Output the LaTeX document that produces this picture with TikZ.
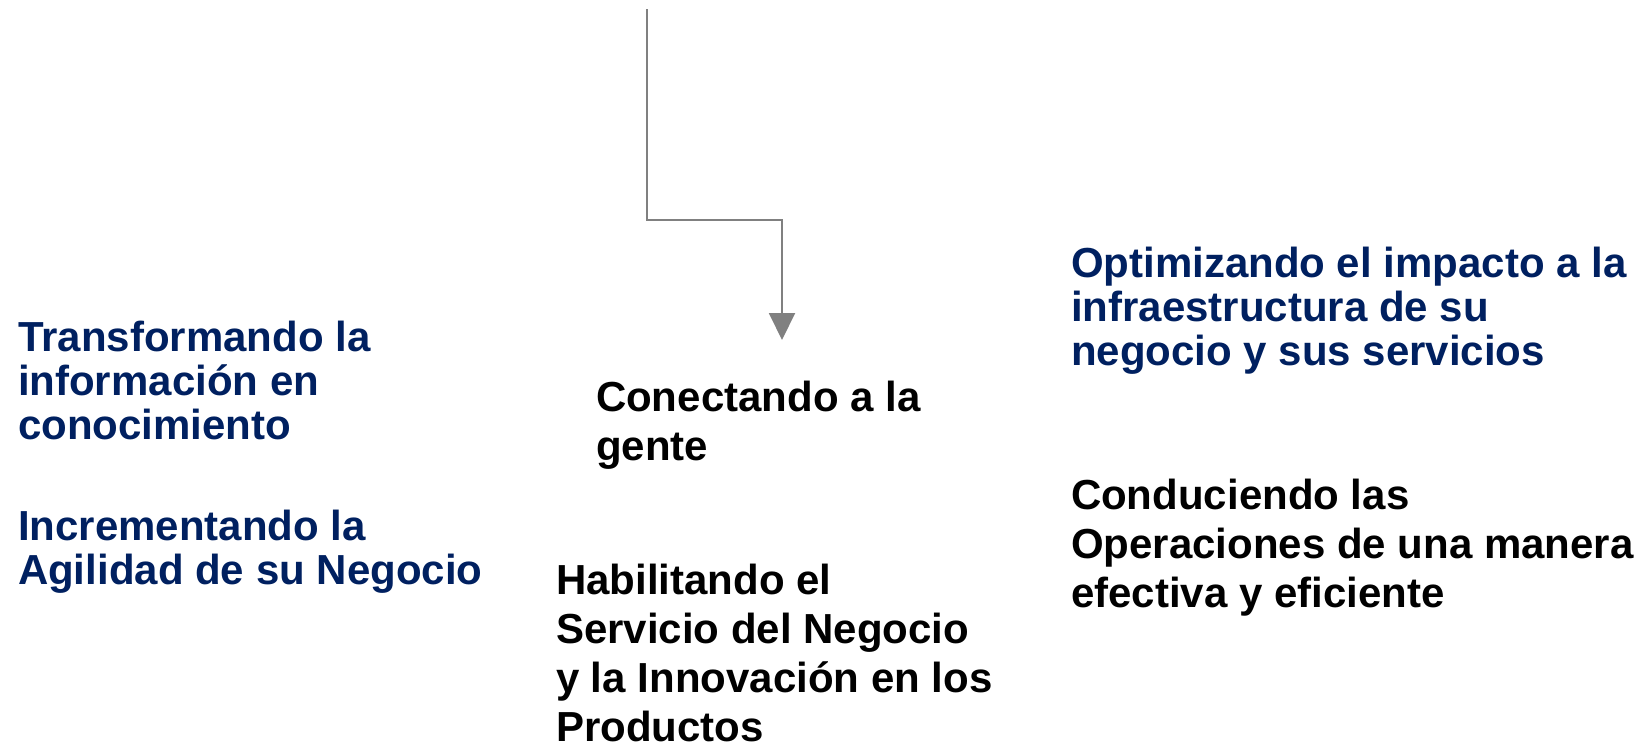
\documentclass[tikz,border=0pt]{standalone}
\usepackage{fontspec}
\setmainfont{Liberation Sans}
\usepackage{tikz}
\usetikzlibrary{arrows.meta,positioning}
\definecolor{navy}{RGB}{0,32,96}
\definecolor{linegray}{RGB}{128,128,128}

\begin{document}
\begin{tikzpicture}[x=1pt,y=-1pt,
    >={Triangle[width=26pt,length=27pt]},
    line width=2pt]
\tikzstyle{every node}=[inner sep=0pt, anchor=base west, align=left, font=\bfseries]
\tikzstyle{bluetxt}=[text=navy, font=\bfseries\fontsize{42}{44}\selectfont]
\tikzstyle{blacktxt}=[text=black, font=\bfseries\fontsize{42}{49}\selectfont]

\useasboundingbox (0,0) rectangle (1652,742);

% nodes are placed by the baseline of their last line
\node[bluetxt]  (trans) at (17,439)   {Transformando la\\información en\\conocimiento};
\node[bluetxt]  (incr)  at (17,584)   {Incrementando la\\Agilidad de su Negocio};

\node[blacktxt] (conec) at (595,460)  {Conectando a la\\gente};
\node[blacktxt] (habil) at (555,741)  {Habilitando el\\Servicio del Negocio\\y la Innovación en los\\Productos};

\node[bluetxt]  (optim) at (1070,365) {Optimizando el impacto a la\\infraestructura de su\\negocio y sus servicios};
\node[blacktxt] (condu) at (1070,607) {Conduciendo las\\Operaciones de una manera\\efectiva y eficiente};

\coordinate (top)  at (647,9);
\coordinate (tip)  at (782,340);

\draw[->, linegray] (top) |- (782,220) -- (tip);
\end{tikzpicture}
\end{document}
